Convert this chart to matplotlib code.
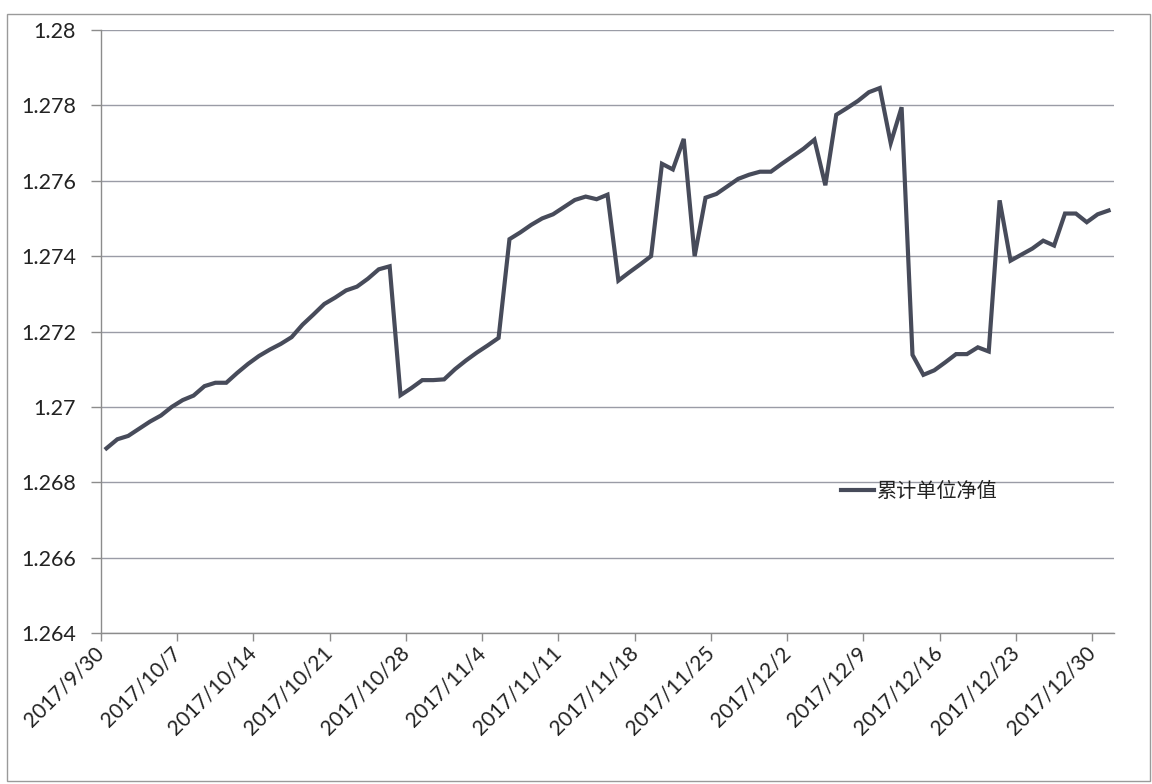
# coding: utf-8

import numpy as np
import pandas as pd
import matplotlib
matplotlib.use('Agg')
import matplotlib.pyplot as plt
import matplotlib.transforms as mtrans
from matplotlib.patches import Rectangle
from matplotlib.ticker import FuncFormatter

plt.rcParams['font.family'] = ['Lato', 'Noto Sans CJK SC', 'DejaVu Sans']

# daily dates 2017/9/30 .. 2017/12/31
dates = pd.date_range('2017-09-30', '2017-12-31', freq='D')

# 累计单位净值
nav = [
    1.26890, 1.26914, 1.26923, 1.26942, 1.26961, 1.26977, 1.27000, 1.27018,
    1.27030, 1.27055, 1.27064, 1.27064, 1.27090, 1.27114, 1.27135, 1.27152,
    1.27167, 1.27185, 1.27218, 1.27245, 1.27273, 1.27290, 1.27309, 1.27319,
    1.27340, 1.27365, 1.27373, 1.27031, 1.27050, 1.27071, 1.27071, 1.27073,
    1.27100, 1.27123, 1.27144, 1.27163, 1.27183, 1.27445, 1.27463, 1.27483,
    1.27500, 1.27511, 1.27530, 1.27549, 1.27558, 1.27551, 1.27563, 1.27335,
    1.27357, 1.27378, 1.27400, 1.27645, 1.27630, 1.27711, 1.27400, 1.27555,
    1.27565, 1.27585, 1.27605, 1.27616, 1.27624, 1.27624, 1.27645, 1.27665,
    1.27685, 1.27709, 1.27588, 1.27775, 1.27793, 1.27812, 1.27835, 1.27846,
    1.27700, 1.27795, 1.27138, 1.27085, 1.27097, 1.27118, 1.27140, 1.27140,
    1.27158, 1.27147, 1.27548, 1.27388, 1.27404, 1.27420, 1.27441, 1.27428,
    1.27513, 1.27513, 1.27490, 1.27511, 1.27521,
]

tick_dates = pd.date_range('2017-09-30', '2017-12-30', freq='7D')
yticks = [1.264, 1.266, 1.268, 1.27, 1.272, 1.274, 1.276, 1.278, 1.28]

fig = plt.figure(figsize=(11.52, 7.84), dpi=100)
ax = fig.add_axes([101/1152, 1 - 633/784, (1114 - 101)/1152, (633 - 30)/784])

# excel date axis: each point sits in the middle of its day
xs = dates + pd.Timedelta(hours=12)
ax.plot(xs, nav, color='#474b5a', lw=3.0, solid_joinstyle='miter', label='累计单位净值')

ax.set_xlim(pd.Timestamp('2017-09-30'), pd.Timestamp('2018-01-01'))
ax.set_ylim(1.264, 1.28)
ax.set_yticks(yticks)
ax.yaxis.set_major_formatter(FuncFormatter(lambda v, p: ('%.3f' % v).rstrip('0')))
ax.set_xticks(tick_dates)
ax.set_xticklabels(['%d/%d/%d' % (d.year, d.month, d.day) for d in tick_dates])

shift = mtrans.ScaledTranslation(9/100, -7/100, fig.dpi_scale_trans)
for lab in ax.get_xticklabels():
    lab.set_rotation(45)
    lab.set_ha('right')
    lab.set_va('center')
    lab.set_rotation_mode('anchor')
    lab.set_transform(lab.get_transform() + shift)

ax.grid(True, axis='y', color='#9a9ca6', lw=1.0)
ax.set_axisbelow(True)
for s in ['top', 'right']:
    ax.spines[s].set_visible(False)
for s in ['left', 'bottom']:
    ax.spines[s].set_color('#8c8c8c')
    ax.spines[s].set_linewidth(1.0)
ax.tick_params(axis='y', length=7, width=1, color='#8c8c8c', pad=11, labelsize=15.5, labelcolor='#222222')
ax.tick_params(axis='x', length=6, width=1, color='#8c8c8c', pad=6, labelsize=15, labelcolor='#222222')

ax.legend(loc='center left', bbox_to_anchor=(0.713, 0.236), frameon=False,
          fontsize=14.5, handlelength=1.6, handletextpad=0.15, labelcolor='#222222')

fig.patches.append(Rectangle((7/1152, 3/784), 1143/1152, 767/784, transform=fig.transFigure,
                             fill=False, edgecolor='#9a9a9a', lw=1.0))

fig.savefig('out.png', dpi=100)
